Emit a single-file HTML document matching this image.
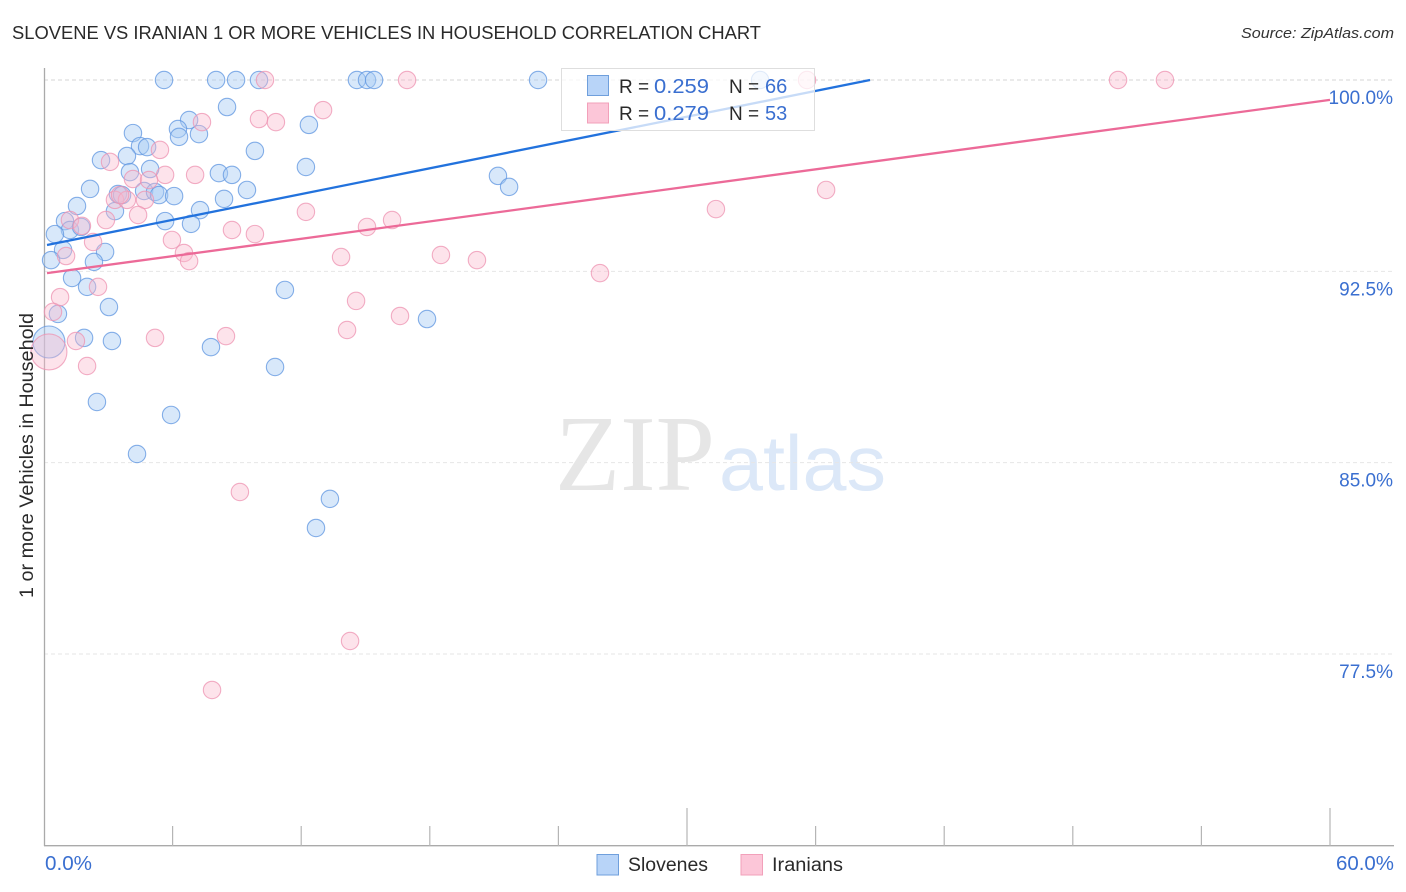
<!DOCTYPE html>
<html lang="en">
<head>
<meta charset="utf-8">
<title>Slovene vs Iranian 1 or More Vehicles in Household Correlation Chart</title>
<style>
html,body{margin:0;padding:0;background:#fff;}
body{width:1406px;height:892px;overflow:hidden;}
svg{display:block;font-family:"Liberation Sans",sans-serif;}
</style>
</head>
<body>
<svg id="chart" width="1406" height="892" viewBox="0 0 1406 892" xmlns="http://www.w3.org/2000/svg">
  <rect x="0" y="0" width="1406" height="892" fill="#ffffff"/>
  <text x="12" y="39" font-size="18" fill="#2a2a2a" textLength="749" lengthAdjust="spacingAndGlyphs">SLOVENE VS IRANIAN 1 OR MORE VEHICLES IN HOUSEHOLD CORRELATION CHART</text>
  <text x="1241" y="38" font-size="15" font-style="italic" fill="#333" textLength="153" lengthAdjust="spacingAndGlyphs">Source: ZipAtlas.com</text>
  <text x="555" y="490" font-family="'Liberation Serif',serif" font-size="108" fill="#e6e6e6" textLength="160" lengthAdjust="spacingAndGlyphs">ZIP</text>
  <text x="719" y="490" font-size="78" fill="#dce8f8" textLength="167" lengthAdjust="spacingAndGlyphs">atlas</text>
  <g id="grid"></g>
  <g id="axes"></g>
  <g id="points-slovenes"></g>
  <g id="points-iranians"></g>
  <g id="trends"></g>
  <g id="tick-labels"></g>
  <text transform="translate(33,455.5) rotate(-90)" font-size="19" fill="#2a2a2a" text-anchor="middle" textLength="285" lengthAdjust="spacingAndGlyphs">1 or more Vehicles in Household</text>

  <g>
    <rect x="561.5" y="68.5" width="253" height="62" fill="#ffffff" fill-opacity="0.75" stroke="#dedede" stroke-width="1"/>
    <rect x="587.5" y="75.5" width="21" height="20" fill="#b8d4f8" stroke="#6f9fdc" stroke-width="1"/>
    <rect x="587.5" y="103" width="21" height="20" fill="#fcc6d8" stroke="#f2a0ba" stroke-width="1"/>
    <text x="619" y="93" font-size="19" fill="#2a2a2a">R =</text>
    <text x="654" y="93" font-size="20" fill="#3a6fd0" textLength="55" lengthAdjust="spacingAndGlyphs">0.259</text>
    <text x="729" y="93" font-size="19" fill="#2a2a2a">N =</text>
    <text x="765" y="93" font-size="20" fill="#3a6fd0">66</text>
    <text x="619" y="120" font-size="19" fill="#2a2a2a">R =</text>
    <text x="654" y="120" font-size="20" fill="#3a6fd0" textLength="55" lengthAdjust="spacingAndGlyphs">0.279</text>
    <text x="729" y="120" font-size="19" fill="#2a2a2a">N =</text>
    <text x="765" y="120" font-size="20" fill="#3a6fd0">53</text>
  </g>

  <g>
    <rect x="597" y="854.5" width="21.5" height="20.5" fill="#b8d4f8" stroke="#6f9fdc" stroke-width="1"/>
    <text x="628" y="871" font-size="19" fill="#2a2a2a" textLength="80" lengthAdjust="spacingAndGlyphs">Slovenes</text>
    <rect x="741" y="854.5" width="21.5" height="20.5" fill="#fcc6d8" stroke="#f2a0ba" stroke-width="1"/>
    <text x="772" y="871" font-size="19" fill="#2a2a2a" textLength="71" lengthAdjust="spacingAndGlyphs">Iranians</text>
  </g>
</svg>
<script>
const slovenesX = [5.60,8.03,8.96,10.03,14.60,15.07,15.40,23.05,33.41,8.54,12.36,6.77,6.25,6.30,7.23,4.15,4.48,4.81,9.84,3.87,2.66,12.22,4.01,4.95,8.16,8.77,9.47,2.15,4.67,3.45,3.64,5.18,5.37,6.07,8.40,1.54,7.28,3.31,5.65,6.86,0.98,1.21,1.73,0.51,0.89,2.85,0.33,2.33,1.31,2.01,11.24,3.03,0.65,17.87,1.87,3.17,7.79,0.23,10.78,2.47,5.93,4.34,13.34,12.69,21.18,21.70];
const slovenesY = [100,100,100,100,100,100,100,100,100,98.94,98.24,98.43,98.08,97.77,97.88,97.92,97.41,97.37,97.22,97.02,96.86,96.59,96.39,96.51,96.35,96.28,95.69,95.73,95.65,95.53,95.49,95.61,95.49,95.45,95.34,95.06,94.90,94.86,94.47,94.36,94.47,94.12,94.24,93.96,93.34,93.26,92.94,92.87,92.24,91.89,91.77,91.10,90.83,90.63,89.89,89.77,89.53,89.73,88.75,87.38,86.87,85.34,83.58,82.44,96.24,95.81];
const slovenesLargeIndex = 57;
const iraniansX = [10.31,16.94,35.60,50.11,52.30,13.02,10.03,10.82,7.37,5.41,3.08,5.65,7.05,4.15,4.90,3.31,3.87,4.71,3.55,4.39,2.89,1.21,1.77,2.29,1.03,5.97,6.53,6.77,8.77,9.84,12.22,13.86,2.52,0.75,0.42,1.49,5.18,8.49,2.01,0.23,36.49,31.35,15.07,16.24,18.52,20.20,25.94,14.56,14.14,16.61,9.14,14.28,7.84];
const iraniansY = [100,100,100,100,100,98.82,98.47,98.35,98.35,97.26,96.79,96.28,96.28,96.12,96.08,95.30,95.30,95.30,95.49,94.71,94.51,94.51,94.28,93.65,93.10,93.73,93.22,92.90,94.12,93.96,94.83,93.06,91.89,91.49,90.91,89.77,89.89,89.96,88.79,89.34,95.69,94.94,94.24,94.51,93.14,92.94,92.43,91.34,90.20,90.75,83.85,78.01,76.09];
const iraniansLargeIndex = 39;
const slovenesTrendX = [0.14,38.54];
const slovenesTrendY = [93.53,100];
const iraniansTrendX = [0.14,60];
const iraniansTrendY = [92.43,99.22];
const yTickValues = [100,92.5,85,77.5];
const yTickLabels = ["100.0%","92.5%","85.0%","77.5%"];
const xTickValues = [0,6,12,18,24,30,36,42,48,54,60];
const xEndValues = [0,60];
const xEndLabels = ["0.0%","60.0%"];

const NS = "http://www.w3.org/2000/svg";
const xScale = v => 44 + (v / 60) * 1286;
const yScale = v => 80 + ((100 - v) / 22.5) * 574;

function make(tag, attrs, parent) {
  const el = document.createElementNS(NS, tag);
  for (const k in attrs) el.setAttribute(k, attrs[k]);
  parent.appendChild(el);
  return el;
}

const gridG = document.getElementById("grid");
yTickValues.forEach((v, i) => {
  const l = make("line", {x1: 44, x2: 1394, y1: yScale(v), y2: yScale(v), stroke: i === 0 ? "#d6d6d6" : "#e6e6e6", "stroke-width": 1, "stroke-dasharray": "4 3"}, gridG);
  
  
});

const axesG = document.getElementById("axes");
const yAxisLine = make("line", {x1: 44.5, x2: 44.5, y1: 68, y2: 846, stroke: "#aaaaaa", "stroke-width": 1.3}, axesG);


const xAxisLine = make("line", {x1: 44, x2: 1394, y1: 845.7, y2: 845.7, stroke: "#aaaaaa", "stroke-width": 1.3}, axesG);


xTickValues.forEach(v => {
  if (v === 0) return;
  const top = (v % 30 === 0) ? 808 : 826;
  const t = make("line", {x1: xScale(v), x2: xScale(v), y1: top, y2: 846, stroke: "#b5b5b5", "stroke-width": 1.2}, axesG);
  
  
});

function drawPoints(groupId, xs, ys, largeIndex, fill, fillOpacity, stroke, pointName) {
  const g = document.getElementById(groupId);
  xs.forEach((x, i) => {
    const c = make("circle", {cx: xScale(x), cy: yScale(ys[i]), r: i === largeIndex ? (pointName === 'iranian-point' ? 18 : 16) : 8.7, fill: fill, "fill-opacity": fillOpacity, stroke: stroke, "stroke-opacity": 0.75, "stroke-width": 1.1}, g);
    
    
  });
}
drawPoints("points-slovenes", slovenesX, slovenesY, slovenesLargeIndex, "#a9cbf5", 0.45, "#5f96e0", "slovene-point");
drawPoints("points-iranians", iraniansX, iraniansY, iraniansLargeIndex, "#f9b9cd", 0.4, "#ee93b1", "iranian-point");

const trendsG = document.getElementById("trends");
const slovenesTrend = make("line", {x1: xScale(slovenesTrendX[0]), y1: yScale(slovenesTrendY[0]), x2: xScale(slovenesTrendX[1]), y2: yScale(slovenesTrendY[1]), stroke: "#2272dd", "stroke-width": 2.3}, trendsG);


const iraniansTrend = make("line", {x1: xScale(iraniansTrendX[0]), y1: yScale(iraniansTrendY[0]), x2: xScale(iraniansTrendX[1]), y2: yScale(iraniansTrendY[1]), stroke: "#ec6a98", "stroke-width": 2.3}, trendsG);



const labelsG = document.getElementById("tick-labels");
yTickValues.forEach((v, i) => {
  const t = make("text", {x: 1393, y: yScale(v) + 24, "font-size": 19, fill: "#3a6fd0", "text-anchor": "end"}, labelsG);
  t.textContent = yTickLabels[i];
  
  
});
xEndValues.forEach((v, i) => {
  const t = make("text", {x: i === 0 ? 45 : 1336, y: 870, "font-size": 20, fill: "#3a6fd0", textLength: i === 0 ? 47 : 58, lengthAdjust: "spacingAndGlyphs"}, labelsG);
  t.textContent = xEndLabels[i];
  
  
});
</script>
</body>
</html>
